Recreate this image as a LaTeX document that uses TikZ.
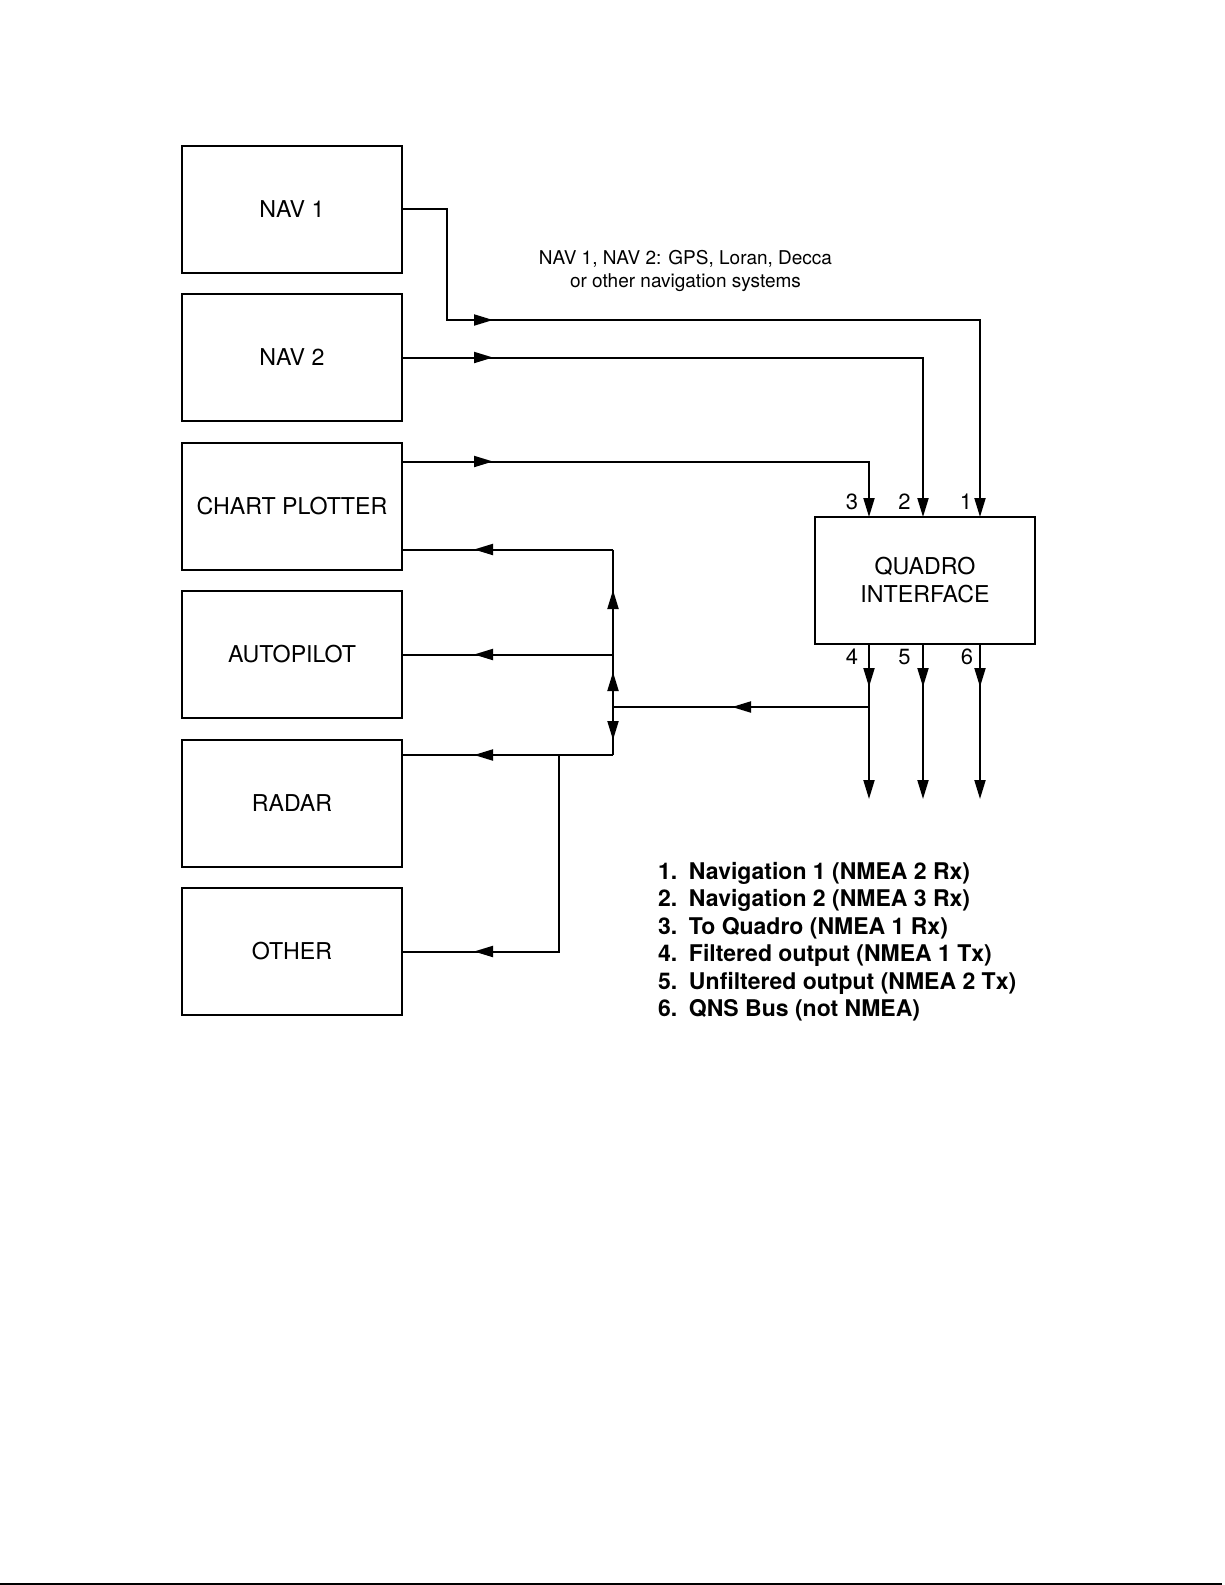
\documentclass[tikz,border=0pt]{standalone}
\usepackage{fontspec}
\setmainfont{TeX Gyre Heros}
\usetikzlibrary{arrows.meta,calc}
\begin{document}
\begin{tikzpicture}[x=1pt,y=-1pt, line width=2pt,
  box/.style={draw, line width=2pt, minimum width=220pt, minimum height=127pt, inner sep=0pt, align=center, font=\fontsize{23.2}{28}\selectfont},
  tip/.style={-{Triangle[length=19pt,width=11pt]}},
  lbl/.style={inner sep=0pt, font=\fontsize{22}{26}\selectfont},
  legend/.style={anchor=west, inner sep=0pt, font=\fontsize{23}{27}\selectfont\bfseries},
  note/.style={inner sep=0pt, align=center, font=\fontsize{19}{22.5}\selectfont}]
\useasboundingbox (0,0) rectangle (1225,1585);

% boxes
\node[box] (nav1)  at (292,209) {NAV 1};
\node[box] (nav2)  at (292,357.5) {NAV 2};
\node[box] (chart) at (292,506) {CHART PLOTTER};
\node[box] (auto)  at (292,654.5) {AUTOPILOT};
\node[box] (radar) at (292,803) {RADAR};
\node[box] (other) at (292,951.5) {OTHER};
\node[box] (quadro) at (925,580.5) {QUADRO\\INTERFACE};

% ports
\coordinate (p1) at (980,517);
\coordinate (p2) at (923,517);
\coordinate (p3) at (869,517);
\coordinate (q4) at (869,644);
\coordinate (q5) at (923,644);
\coordinate (q6) at (980,644);
\coordinate (e4) at (869,799);
\coordinate (e5) at (923,799);
\coordinate (e6) at (980,799);
\coordinate (j4) at (869,707);

% bends and bus
\coordinate (b1) at (447,320);
\coordinate (c3) at ($(chart.east)+(0,-44.5)$);
\coordinate (c3b) at ($(chart.east)+(0,43.5)$);
\coordinate (r1) at ($(radar.east)+(0,-48)$);
\coordinate (bt) at (613,549.5);
\coordinate (bj) at (613,707);
\coordinate (bb) at (613,755);
\coordinate (ob) at (559,755);

% inputs to Quadro
\draw[tip] (nav1.east) -| (b1) -| (p1);
\draw[tip] (nav2.east) -| (p2);
\draw[tip] (c3) -| (p3);

% outputs
\draw[tip] (q4) -- (e4);
\draw[tip] (q5) -- (e5);
\draw[tip] (q6) -- (e6);
\draw (j4) -- (bj);

% bus
\draw (bt) -- (bb);
\draw (bt) -- (c3b);
\draw (auto.east -| bt) -- (auto.east);
\draw (bb) -- (r1);
\draw (ob) |- (other.east);

% mid arrowheads
\draw[tip] (470,320) -- (493,320);
\draw[tip] (470,357.5) -- (493,357.5);
\draw[tip] (470,461.5) -- (493,461.5);
\draw[tip] (496,549.5) -- (474,549.5);
\draw[tip] (496,654.5) -- (474,654.5);
\draw[tip] (496,755) -- (474,755);
\draw[tip] (496,951.5) -- (474,951.5);
\draw[tip] (613,612) -- (613,590);
\draw[tip] (613,694) -- (613,672);
\draw[tip] (613,718) -- (613,740);
\draw[tip] (755,707) -- (732,707);
\draw[tip] (869,665) -- (869,687);
\draw[tip] (923,665) -- (923,687);
\draw[tip] (980,665) -- (980,687);

% port labels
\node[lbl] (l3) at (852,502) {3};
\node[lbl] (l2) at (904.5,502) {2};
\node[lbl] (l1) at (966,502) {1};
\node[lbl] (l4) at (852,657) {4};
\node[lbl] (l5) at (904.5,657) {5};
\node[lbl] (l6) at (967,657) {6};

% note
\node[note] (nt) at (685.5,271) {NAV 1, NAV 2: GPS, Loran, Decca\\or other navigation systems};

% legend
\node[legend] (g1) at (657,873)   {\makebox[31pt][l]{1.}Navigation 1 (NMEA 2 Rx)};
\node[legend] (g2) at (657,900.5) {\makebox[31pt][l]{2.}Navigation 2 (NMEA 3 Rx)};
\node[legend] (g3) at (657,928)   {\makebox[31pt][l]{3.}To Quadro (NMEA 1 Rx)};
\node[legend] (g4) at (657,955.5) {\makebox[31pt][l]{4.}Filtered output (NMEA 1 Tx)};
\node[legend] (g5) at (657,983)   {\makebox[31pt][l]{5.}Unfiltered output (NMEA 2 Tx)};
\node[legend] (g6) at (657,1010.5){\makebox[31pt][l]{6.}QNS Bus (not NMEA)};

% bottom rule
\draw (0,1583.5) -- (1222,1583.5);
\end{tikzpicture}
\end{document}
